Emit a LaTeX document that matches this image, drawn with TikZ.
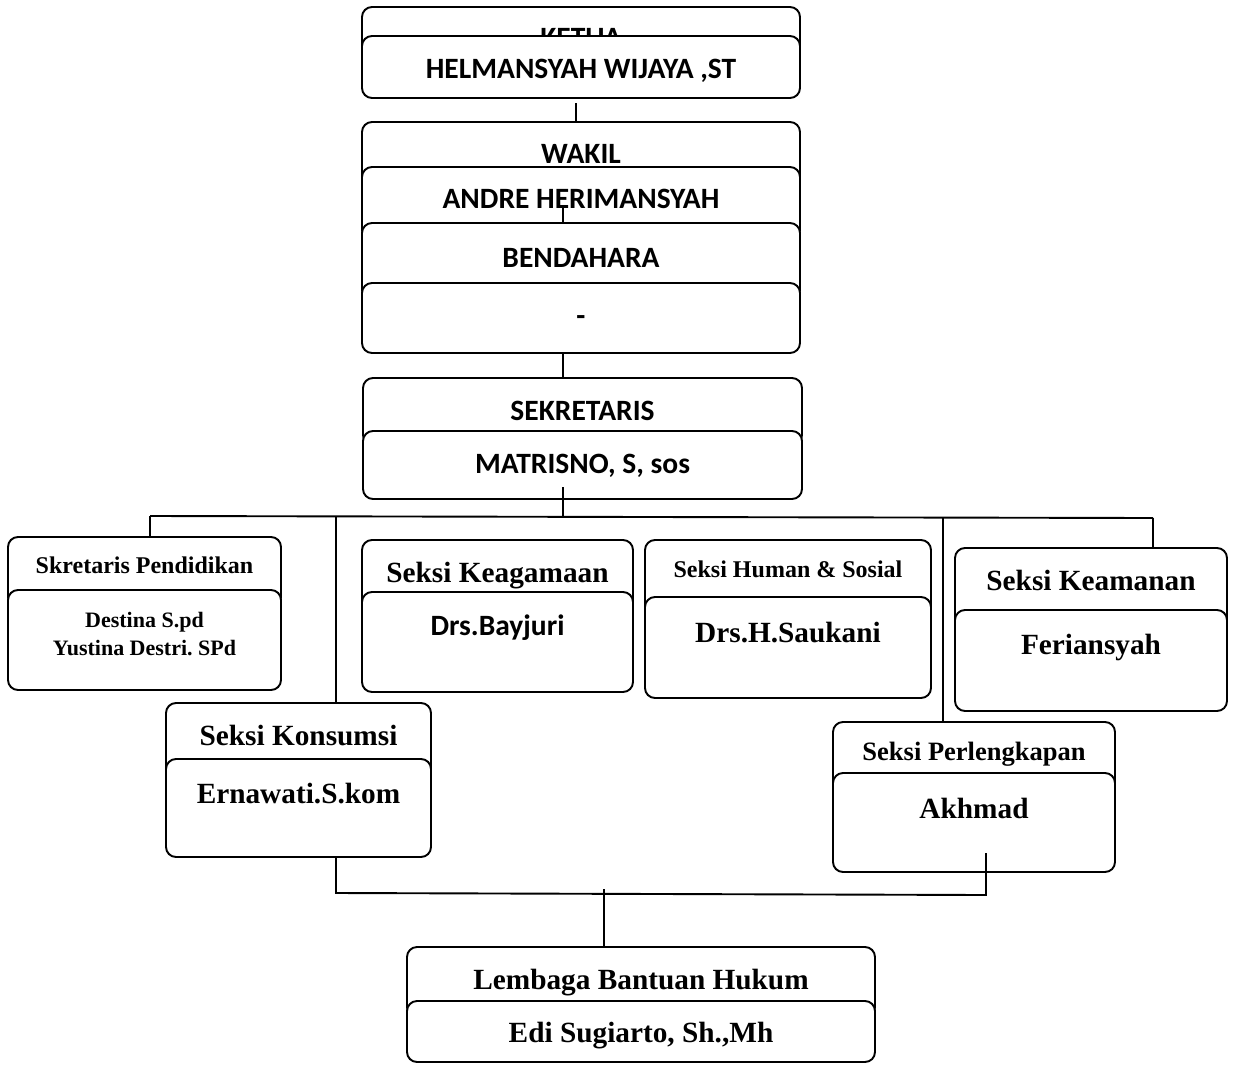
\documentclass[tikz,border=0pt]{standalone}
\usepackage{fontspec}
\setmainfont{Liberation Serif}
\newfontfamily\calib{Carlito}
\frenchspacing
\begin{document}
\begin{tikzpicture}[x=1pt,y=-1pt,
  box/.style={draw, fill=white, rounded corners=10pt, line width=1.9pt, anchor=north west, inner sep=0pt, outer sep=0pt},
  conn/.style={line width=1.9pt},
  topt/.style={font=\calib\bfseries\fontsize{29.5}{32}\selectfont, anchor=base, inner sep=0pt},
  serL/.style={font=\bfseries\fontsize{29.3}{32}\selectfont, anchor=base, inner sep=0pt},
  serM/.style={font=\bfseries\fontsize{26.5}{30}\selectfont, anchor=base, inner sep=0pt},
  serS/.style={font=\bfseries\fontsize{24}{28}\selectfont, anchor=base, inner sep=0pt},
  serXS/.style={font=\bfseries\fontsize{22}{26}\selectfont, anchor=base, inner sep=0pt}]
\useasboundingbox (0,0) rectangle (1233,1065);
% top chain
\node[box, minimum width=438pt, minimum height=63pt] (ketuaH) at (362,7) {};
\node[topt] (tketua) at (581,48) {KETUA};
\node[box, minimum width=438pt, minimum height=62pt] (ketua) at (362,36) {};
\node[topt] (thelm) at (581,78) {HELMANSYAH WIJAYA ,ST};
\node[box, minimum width=438pt, minimum height=73pt] (wakilH) at (362,122) {};
\node[topt] (twakil) at (581,163) {WAKIL};
\node[box, minimum width=438pt, minimum height=73pt] (wakil) at (362,167) {};
\node[topt] (tandre) at (581,208) {ANDRE HERIMANSYAH};
\coordinate (c2a) at (563,208);
\draw[conn] (c2a) -- (563,223);
\node[box, minimum width=438pt, minimum height=77pt] (bendH) at (362,223) {};
\node[topt] (tbend) at (581,267) {BENDAHARA};
\node[box, minimum width=438pt, minimum height=70pt] (bend) at (362,283) {};
\node[topt] (tdash) at (581,325) {-};
\node[box, minimum width=439pt, minimum height=67pt] (sekH) at (363,378) {};
\node[topt] (tsek) at (582.5,420) {SEKRETARIS};
\node[box, minimum width=439pt, minimum height=68pt] (sek) at (363,431) {};
\node[topt] (tmat) at (582.5,473) {MATRISNO, S, sos};
% second row
\node[box, minimum width=273pt, minimum height=70pt] (pendH) at (8,537) {};
\node[serS] (tpend) at (144.5,573) {Skretaris Pendidikan};
\node[box, minimum width=273pt, minimum height=100pt] (pend) at (8,590) {};
\node[serXS] (tdest) at (144.5,627) {Destina S.pd};
\node[serXS] (tyust) at (144.5,655) {Yustina Destri. SPd};
\node[box, minimum width=271pt, minimum height=70pt] (agamaH) at (362,540) {};
\node[serL] (tagama) at (497.5,582) {Seksi Keagamaan};
\node[box, minimum width=271pt, minimum height=100pt] (agama) at (362,592) {};
\node[topt] (tbay) at (497.5,635) {Drs.Bayjuri};
\node[box, minimum width=286pt, minimum height=75pt] (humanH) at (645,540) {};
\node[serS] (thuman) at (788,577) {Seksi Human \& Sosial};
\node[box, minimum width=286pt, minimum height=101pt] (human) at (645,597) {};
\node[serL] (tsauk) at (788,642) {Drs.H.Saukani};
\node[box, minimum width=272pt, minimum height=80pt] (amanH) at (955,548) {};
\node[serL] (taman) at (1091,590) {Seksi Keamanan};
\node[box, minimum width=272pt, minimum height=101pt] (aman) at (955,610) {};
\node[serL] (tferi) at (1091,654) {Feriansyah};
% third row
\node[box, minimum width=265pt, minimum height=75pt] (konsH) at (166,703) {};
\node[serL] (tkons) at (298.5,745) {Seksi Konsumsi};
\node[box, minimum width=265pt, minimum height=98pt] (kons) at (166,759) {};
\node[serL] (terna) at (298.5,803) {Ernawati.S.kom};
\node[box, minimum width=282pt, minimum height=70pt] (lengkH) at (833,722) {};
\node[serM] (tlengk) at (974,760) {Seksi Perlengkapan};
\node[box, minimum width=282pt, minimum height=99pt] (lengk) at (833,773) {};
\node[serL] (takh) at (974,818) {Akhmad};
% bottom
\node[box, minimum width=468pt, minimum height=70pt] (lbhH) at (407,947) {};
\node[serL] (tlbh) at (641,989) {Lembaga Bantuan Hukum};
\node[box, minimum width=468pt, minimum height=61pt] (lbh) at (407,1001) {};
\node[serL] (tedi) at (641,1042) {Edi Sugiarto, Sh.,Mh};
% connectors
\coordinate (c1a) at (576,103);
\draw[conn] (c1a) -- (c1a |- wakilH.north);
\coordinate (c3a) at (563,353);
\draw[conn] (c3a) -- (c3a |- sekH.north);
\coordinate (c4a) at (563,487);
\coordinate (bL) at (150,516);
\coordinate (bR) at (1153,518);
\coordinate (c4b) at (563,517);
\draw[conn] (c4a) -- (c4b);
\draw[conn] (bL) -- (bR);
\draw[conn] (bL) -- (bL |- pendH.north);
\coordinate (dK) at (336,516.4);
\draw[conn] (dK) -- (dK |- konsH.north);
\coordinate (dP) at (943,517.6);
\draw[conn] (dP) -- (dP |- lengkH.north);
\draw[conn] (bR) -- (bR |- amanH.north);
\coordinate (lb1) at (336,893);
\coordinate (lb2) at (986,895);
\coordinate (lb3) at (986,853);
\draw[conn] (lb1 |- kons.south) -- (lb1) -- (lb2) -- (lb3);
\coordinate (m1) at (604,889);
\draw[conn] (m1) -- (m1 |- lbhH.north);
\end{tikzpicture}
\end{document}
